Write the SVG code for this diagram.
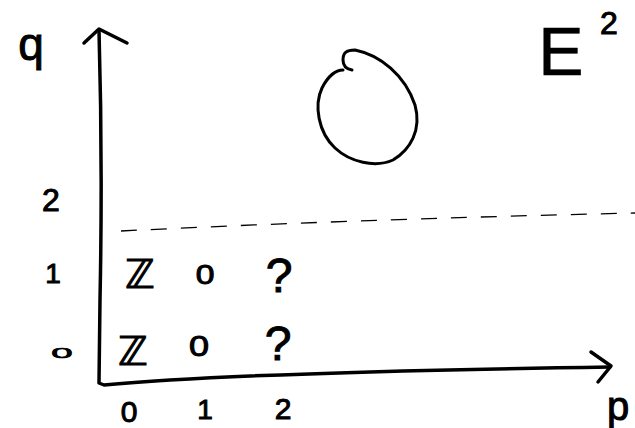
<svg xmlns="http://www.w3.org/2000/svg" width="635" height="428" viewBox="0 0 635 428">
<style>
.ln{fill:none;stroke:#000;stroke-width:3.5;stroke-linecap:round;stroke-linejoin:round}
.dash{fill:none;stroke:#000;stroke-width:1.3;stroke-dasharray:16 14}
.t{font-family:"Liberation Sans","DejaVu Sans",sans-serif;fill:#000;stroke:#000;stroke-width:1;text-anchor:middle}
</style>
<rect width="635" height="428" fill="#fff"/>
<g id="axes">
<path class="ln" d="M99,30 C101,100 102,200 100,300 L99,383 L104,385 C200,376 400,370 610,367"/>
<path class="ln" d="M84,43 L99,29 L127,43"/>
<path class="ln" d="M591,352 L611,366 L598,382"/>
<path class="dash" d="M121,231 C300,222 500,216 635,213"/>
</g>
<g id="labels">
<text class="t" x="31" y="60" style="font-size:46px">q</text>
<text class="t" x="618" y="420" style="font-size:40px">p</text>
<text class="t" x="51" y="211" style="font-size:32px">2</text>
<text class="t" x="53" y="283" style="font-size:28px">1</text>
<text class="t" transform="translate(62,358) scale(1.6,0.6)" style="font-size:24px">0</text>
<text class="t" x="129" y="422" style="font-size:30px">0</text>
<text class="t" x="205" y="419" style="font-size:28px">1</text>
<text class="t" x="283" y="419" style="font-size:30px">2</text>
<text class="t" x="561" y="75" style="font-size:68px;stroke-width:0.5">E</text>
<text class="t" x="609" y="34" style="font-size:32px">2</text>
</g>
<g id="cells">
<text class="t" x="140" y="288" style="font-size:40px">ℤ</text>
<text class="t" transform="translate(205,284) scale(1.2,1)" style="font-size:28px">0</text>
<text class="t" x="279" y="292" style="font-size:48px">?</text>
<text class="t" x="133" y="365" style="font-size:40px">ℤ</text>
<text class="t" transform="translate(199,356) scale(1.2,1)" style="font-size:30px">0</text>
<text class="t" x="278" y="360" style="font-size:48px">?</text>
</g>
<g id="zero">
<path class="ln" style="stroke-width:3" d="M352,70 C346,69 343,66 343,60 C343,53 346,50 355,50 C380,55 405,75 415,105 C422,130 410,150 393,160 C375,168 350,162 335,148 C318,132 314,105 322,88 C328,76 336,70 343,70"/>
</g>
</svg>
